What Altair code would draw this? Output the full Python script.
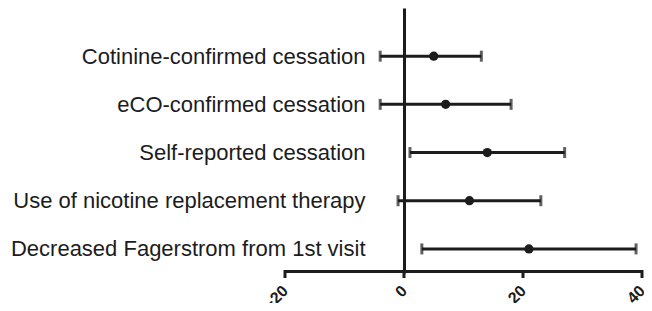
import altair as alt
import pandas as pd
import json

outcomes = [
    "Cotinine-confirmed cessation",
    "eCO-confirmed cessation",
    "Self-reported cessation",
    "Use of nicotine replacement therapy",
    "Decreased Fagerstrom from 1st visit",
]
estimates = [5, 7, 14, 11, 21]
lower = [-4, -4, 1, -1, 3]
upper = [13, 18, 27, 23, 39]
x_ticks = [-20, 0, 20, 40]

df = pd.DataFrame({
    "row": list(range(len(outcomes))),
    "outcome": outcomes, "est": estimates, "lo": lower, "hi": upper,
})
ticks_df = pd.DataFrame({"t": x_ticks})
base_df = pd.DataFrame({"a": [x_ticks[0]], "b": [x_ticks[-1]]})

FONT = "Liberation Sans"
INK = "#1c1c1c"
W, H = 357, 265

xscale = alt.Scale(domain=[-20, 40], nice=False, zero=False)
yscale = alt.Scale(domain=[-1, 4.5], nice=False, zero=False, reverse=True)
label_expr = json.dumps(outcomes) + "[datum.value]"

xaxis = alt.Axis(
    values=x_ticks, title=None, grid=False, domain=False, ticks=False,
    labelAngle=-45, labelAlign="right", labelBaseline="middle",
    labelFont=FONT, labelFontSize=16, labelFontWeight="bold", labelColor=INK,
    labelPadding=15,
)
yaxis = alt.Axis(
    values=list(range(len(outcomes))), labelExpr=label_expr,
    title=None, grid=False, ticks=False, domain=True, offset=-W / 3, labelPadding=39,
    labelFont=FONT, labelFontSize=22, labelColor=INK, labelLimit=600,
    labelBaseline="middle", labelFlush=False, labelOverlap=False,
    domainColor=INK, domainWidth=3,
)

base = alt.Chart(df).encode(
    y=alt.Y("row:Q", scale=yscale, axis=yaxis),
)

bars = base.mark_rule(color=INK, strokeWidth=3).encode(
    x=alt.X("lo:Q", scale=xscale, axis=xaxis),
    x2="hi:Q",
)
cap_lo = base.mark_tick(color=INK, thickness=3, size=11, orient="vertical").encode(
    x=alt.X("lo:Q", scale=xscale, axis=xaxis)
)
cap_hi = base.mark_tick(color=INK, thickness=3, size=11, orient="vertical").encode(
    x=alt.X("hi:Q", scale=xscale, axis=xaxis)
)
pts = base.mark_circle(color=INK, opacity=1, size=85).encode(
    x=alt.X("est:Q", scale=xscale, axis=xaxis)
)

# x-axis baseline and tick marks drawn as rules through the x scale
x_line = alt.Chart(base_df).mark_rule(color=INK, strokeWidth=3).encode(
    x=alt.X("a:Q", scale=xscale, axis=xaxis),
    x2="b:Q",
    y=alt.value(H - 1.5),
)
x_tk = alt.Chart(ticks_df).mark_rule(color=INK, strokeWidth=3).encode(
    x=alt.X("t:Q", scale=xscale, axis=xaxis),
    y=alt.value(H - 3),
    y2=alt.value(H + 5),
)

chart = (
    alt.layer(x_line, x_tk, bars, cap_lo, cap_hi, pts)
    .properties(
        width=W, height=H,
        autosize=alt.AutoSizeParams(type="none"),
        padding={"left": 277, "top": 0, "right": 2, "bottom": 30},
    )
    .configure(background="white")
    .configure_view(strokeOpacity=0)
)

chart.save("out.html", embed_options={"renderer": "svg", "actions": False})
